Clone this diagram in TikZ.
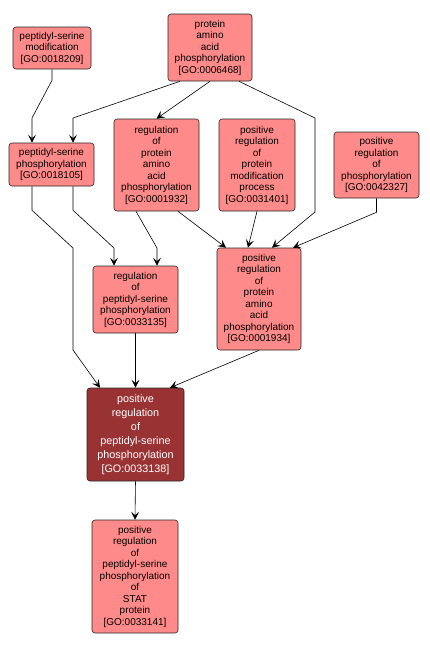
\documentclass[tikz,border=0pt]{standalone}
\usepackage{fontspec}
\setmainfont{Liberation Sans}
\usepackage{xcolor}
\usepackage{tikz}
\usetikzlibrary{arrows.meta, positioning}

\definecolor{gofill}{RGB}{255,138,138}
\definecolor{gofocus}{RGB}{153,51,51}

\begin{document}
\begin{tikzpicture}[
    x=1pt, y=-1pt,
    goterm/.style = {rectangle, draw=black!85, fill=gofill,
                     rounded corners=3pt, line width=0.6pt,
                     align=center, inner sep=0pt,
                     font=\fontsize{10}{11.5}\selectfont},
    gofocus/.style = {goterm, fill=gofocus, text=white,
                      font=\fontsize{10.8}{14}\selectfont},
    arrow/.style  = {-{Stealth[length=8pt, width=8pt, inset=3.5pt]},
                     line width=0.6pt, black}
]
\useasboundingbox (0,0) rectangle (430,649);

%% Top row
\node[goterm, minimum width=78pt, minimum height=42pt] (psm) at (52,48)
    {peptidyl-serine\\modification\\{[GO:0018209]}};
\node[goterm, minimum width=84pt, minimum height=67pt] (paap) at (210,47.5)
    {protein\\amino\\acid\\phosphorylation\\{[GO:0006468]}};

%% Second row
\node[goterm, minimum width=85pt, minimum height=43pt] (psp) at (51.5,164.5)
    {peptidyl-serine\\phosphorylation\\{[GO:0018105]}};
\node[goterm, minimum width=85pt, minimum height=92pt] (rpaap) at (156.5,165)
    {regulation\\of\\protein\\amino\\acid\\phosphorylation\\{[GO:0001932]}};
\node[goterm, minimum width=76pt, minimum height=92pt] (prpmp) at (257,165)
    {positive\\regulation\\of\\protein\\modification\\process\\{[GO:0031401]}};
\node[goterm, minimum width=85pt, minimum height=66pt] (prp) at (376.5,165)
    {positive\\regulation\\of\\phosphorylation\\{[GO:0042327]}};

%% Third row
\node[goterm, minimum width=85pt, minimum height=67pt] (rpsp) at (135.5,299.5)
    {regulation\\of\\peptidyl-serine\\phosphorylation\\{[GO:0033135]}};
\node[goterm, minimum width=84pt, minimum height=102pt] (prpaap) at (259,299)
    {positive\\regulation\\of\\protein\\amino\\acid\\phosphorylation\\{[GO:0001934]}};

%% Focus term
\node[gofocus, minimum width=97pt, minimum height=93pt] (prpsp) at (135.5,434.5)
    {positive\\regulation\\of\\peptidyl-serine\\phosphorylation\\{[GO:0033138]}};

%% Child term
\node[goterm, minimum width=86pt, minimum height=113pt] (stat) at (135,576.5)
    {positive\\regulation\\of\\peptidyl-serine\\phosphorylation\\of\\STAT\\protein\\{[GO:0033141]}};

%% Bends
\coordinate (b1) at (32,118);
\coordinate (b2) at (73,118);
\coordinate (b3) at (315,118);
\coordinate (b4) at (315,212);
\coordinate (b5) at (73,248);
\coordinate (b6) at (73,350);
\coordinate (b7) at (114,248);
\coordinate (b8) at (157,248);

%% Arrows
\draw[arrow] (psm.south) -- ++(0,11) -- (b1) -- (b1 |- psp.north);
\draw[arrow] ([xshift=-30pt]paap.south) -- (b2) -- (b2 |- psp.north);
\draw[arrow] (paap.south) -- (rpaap.north);
\draw[arrow] ([xshift=29pt]paap.south) -- (b3) -- (b4)
    -- ([xshift=13pt]prpaap.north);
\draw[arrow] ([xshift=-19.5pt]psp.south) -- ++(0,24) -- (b5) -- (b6)
    -- ([xshift=-35.5pt]prpsp.north);
\draw[arrow] ([xshift=21.5pt]psp.south) -- ++(0,24) -- (b7)
    -- (b7 |- rpsp.north);
\draw[arrow] ([xshift=-20.5pt]rpaap.south) -- (b8) -- (b8 |- rpsp.north);
\draw[arrow] ([xshift=21.5pt]rpaap.south) -- ([xshift=-33pt]prpaap.north);
\draw[arrow] (prpmp.south) -- ([xshift=-11pt]prpaap.north);
\draw[arrow] (prp.south) -- ++(0,14) -- ([xshift=34pt]prpaap.north);
\draw[arrow] (rpsp.south) -- (prpsp.north);
\draw[arrow] (prpaap.south) -- ([xshift=34.5pt]prpsp.north);
\draw[arrow] (prpsp.south) -- (stat.north);
\end{tikzpicture}
\end{document}
